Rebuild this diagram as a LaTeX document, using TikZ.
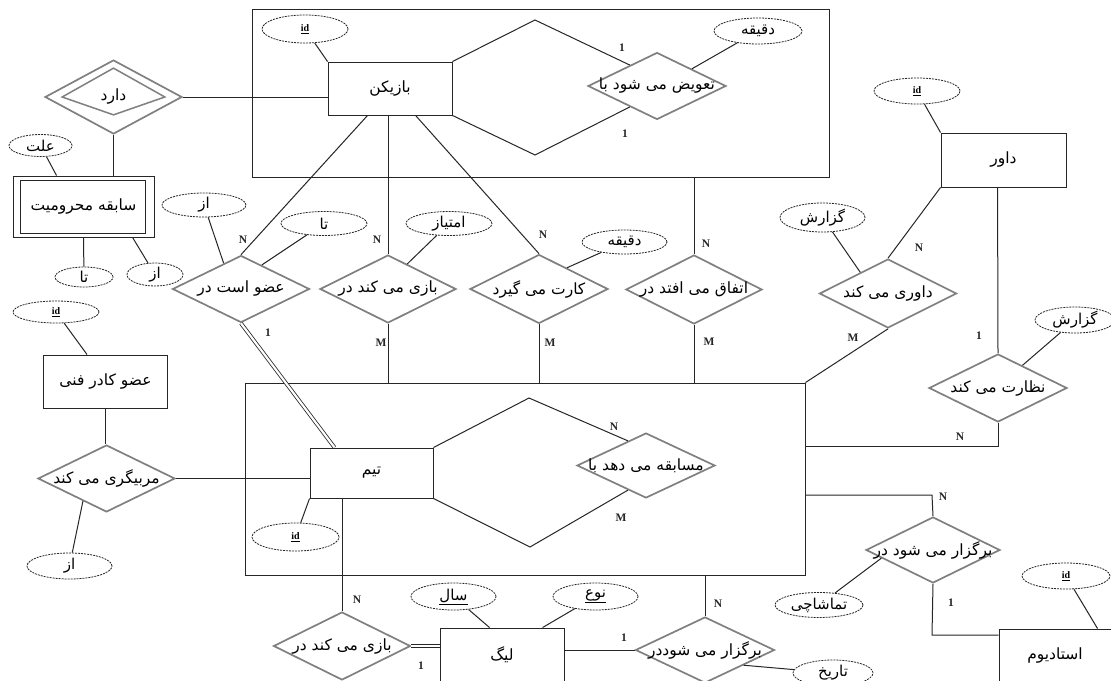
\documentclass[tikz,border=0pt]{standalone}
\usepackage{fontspec}
\setmainfont{Liberation Serif}
\newfontfamily\persfont[Script=Arabic]{DejaVu Sans}
\TeXXeTstate=1
\usetikzlibrary{shapes.geometric,calc}
\newcommand\fatx[1]{\makebox[0pt]{\persfont\beginR #1\endR}}
\newcommand\idtx{\makebox[0pt]{\bfseries\underline{id}}}
\begin{document}
\begin{tikzpicture}[x=1pt,y=-1pt,
 conn/.style={line width=1pt, draw=black!85},
 dbl/.style={draw=black!85, line width=0.8pt, double, double distance=2.2pt},
 ent/.style={draw=black!85, line width=0.9pt, rectangle, inner sep=0pt, font=\fontsize{15.5}{17}\selectfont},
 agg/.style={draw=black!85, line width=0.9pt, rectangle, inner sep=0pt},
 rel/.style={diamond, draw=black!50, line width=1.7pt, inner sep=0pt, fill=white, font=\fontsize{15.5}{17}\selectfont},
 attr/.style={ellipse, draw=black!85, line width=0.8pt, dash pattern=on 2pt off 1pt, inner sep=0pt, fill=white, font=\fontsize{15}{16}\selectfont},
 idattr/.style={attr, font=\fontsize{10}{11}\selectfont},
 card/.style={font=\fontsize{11.5}{12}\selectfont\bfseries, inner sep=0pt, text=black!85},
]
\fill[white] (0,0) rectangle (1111,680);
\useasboundingbox (0,0) rectangle (1111,680);
\clip (0,0) rectangle (1111,680);

% aggregate boxes
\node[agg, minimum width=577pt, minimum height=168pt] (agg1) at (540.5,93) {};
\node[agg, minimum width=560pt, minimum height=192pt] (agg2) at (525,479) {};

% entities
\node[ent, minimum width=124pt, minimum height=53pt] (player) at (390,88.5) {\fatx{بازیکن}};
\node[ent, minimum width=141pt, minimum height=61pt] (sabeghe) at (83.5,206.5) {\fatx{سابقه محرومیت}};
\node[ent, minimum width=124pt, minimum height=53pt] (kadr) at (105.5,381.5) {\fatx{عضو کادر فنی}};
\node[ent, minimum width=123pt, minimum height=50pt] (team) at (371.5,473) {\fatx{تیم}};
\node[ent, minimum width=125pt, minimum height=54pt] (davar) at (1003.5,160) {\fatx{داور}};
\node[ent, minimum width=124pt, minimum height=53pt] (league) at (502,654.5) {\fatx{لیگ}};
\node[ent, minimum width=124pt, minimum height=53pt] (stadium) at (1061,655.5) {\hspace*{-12pt}\fatx{استادیوم}};
\draw[black!85, line width=0.9pt] ($(sabeghe.north west)+(8,5)$) rectangle ($(sabeghe.south east)+(-9,-4)$);

% relationships
\node[rel, minimum width=138pt, minimum height=67pt] (tavizr) at (657,86) {\fatx{تعویض می شود با}};
\node[rel, minimum width=137pt, minimum height=74pt] (darad) at (113.5,97) {\fatx{دارد}};
\draw[black!50, line width=1.5pt] ($(darad.west)+(18,0)$) -- ($(darad.north)+(0,9)$) -- ($(darad.east)+(-18,0)$) -- ($(darad.south)+(0,-20)$) -- cycle;
\node[rel, minimum width=137pt, minimum height=67pt] (ozv) at (241,289) {\fatx{عضو است در}};
\node[rel, minimum width=136pt, minimum height=68pt] (bazia) at (388,289) {\fatx{بازی می کند در}};
\node[rel, minimum width=138pt, minimum height=69pt] (kart) at (539,289) {\fatx{کارت می گیرد}};
\node[rel, minimum width=136pt, minimum height=69pt] (etefagh) at (694,289.5) {\fatx{اتفاق می افتد در}};
\node[rel, minimum width=137pt, minimum height=69pt] (davari) at (888,293.5) {\fatx{داوری می کند}};
\node[rel, minimum width=138pt, minimum height=68pt] (nezarat) at (998,388) {\fatx{نظارت می کند}};
\node[rel, minimum width=137pt, minimum height=67pt] (morabi) at (106.5,478.5) {\fatx{مربیگری می کند}};
\node[rel, minimum width=138pt, minimum height=65pt] (mosabeghe) at (646,465.5) {\fatx{مسابقه می دهد با}};
\node[rel, minimum width=134pt, minimum height=66pt] (bargozara) at (933,550) {\fatx{برگزار می شود در}};
\node[rel, minimum width=137pt, minimum height=68pt] (bazib) at (342,646) {\fatx{بازی می کند در}};
\node[rel, minimum width=139pt, minimum height=66pt] (bargozarb) at (705,650) {\fatx{برگزار می شوددر}};

% attributes
\node[idattr, minimum width=86pt, minimum height=28pt] (idplayer) at (305,29) {\idtx};
\node[attr, minimum width=88pt, minimum height=26pt] (daghighea) at (758,31) {\fatx{دقیقه}};
\node[attr, minimum width=63pt, minimum height=22pt] (elat) at (40.5,145.5) {\fatx{علت}};
\node[attr, minimum width=84pt, minimum height=24pt] (aza) at (204,205) {\fatx{از}};
\node[attr, minimum width=86pt, minimum height=24pt] (taa) at (324,223.5) {\fatx{تا}};
\node[attr, minimum width=58pt, minimum height=20pt] (tab) at (84,277) {\fatx{تا}};
\node[attr, minimum width=56pt, minimum height=23pt] (azb) at (155,274.5) {\fatx{از}};
\node[idattr, minimum width=86pt, minimum height=22pt] (idkadr) at (56,312) {\idtx};
\node[attr, minimum width=86pt, minimum height=24pt] (emtiyaz) at (449,223.5) {\fatx{امتیاز}};
\node[attr, minimum width=85pt, minimum height=24pt] (daghigheb) at (624.5,242) {\fatx{دقیقه}};
\node[idattr, minimum width=86pt, minimum height=26pt] (iddavar) at (917,91) {\idtx};
\node[attr, minimum width=85pt, minimum height=29pt] (gozarésha) at (822.5,217.5) {\fatx{گزارش}};
\node[attr, minimum width=80pt, minimum height=26pt] (gozareshb) at (1075,320) {\fatx{گزارش}};
\node[idattr, minimum width=87pt, minimum height=28pt] (idteam) at (295.5,537) {\idtx};
\node[attr, minimum width=85pt, minimum height=26pt] (azc) at (69.5,566) {\fatx{از}};
\node[attr, minimum width=85pt, minimum height=27pt] (sal) at (453.5,596.5) {\makebox[0pt]{\underline{\persfont\beginR سال\endR}}};
\node[attr, minimum width=85pt, minimum height=27pt] (noe) at (595.5,596.5) {\makebox[0pt]{\underline{\persfont\beginR نوع\endR}}};
\node[attr, minimum width=88pt, minimum height=25pt] (tamasha) at (819,605) {\fatx{تماشاچی}};
\node[attr, minimum width=80pt, minimum height=26pt] (tarikh) at (833,673) {\fatx{تاریخ}};
\node[idattr, minimum width=88pt, minimum height=26pt] (idstad) at (1066,576) {\idtx};

% coordinates
\coordinate (pa) at (535,20);
\coordinate (pb) at (535,155);
\coordinate (ta) at (529,398);
\coordinate (tb) at (530,547);
\coordinate (ca) at (998,446);
\coordinate (cb) at (932,495);
\coordinate (cc) at (932,635);

% connectors
\draw[conn] (idplayer) -- (player.north west);
\draw[conn] (daghighea) -- (tavizr.north east);
\draw[conn] (player.north east) -- (pa) -- ($(tavizr.north)!0.39!(tavizr.west)$);
\draw[conn] (player.south east) -- (pb) -- ($(tavizr.south)!0.39!(tavizr.west)$);
\draw[conn] (darad.east) -- (darad.east -| player.west);
\draw[conn] (darad.south) -- (darad.south |- sabeghe.north);
\draw[conn] (elat) -- ($(sabeghe.north west)+(44,0)$);
\draw[conn] (sabeghe.south) -- (tab);
\draw[conn] ($(sabeghe.south west)+(120,0)$) -- (azb);
\draw[conn] ($(player.south west)+(40,0)$) -- (ozv.north);
\draw[conn] (aza) -- ($(ozv.north)!0.25!(ozv.west)$);
\draw[conn] (taa) -- ($(ozv.north)!0.3!(ozv.east)$);
\draw[dbl] (ozv.south) -- ($(team.north west)+(25,0)$);
\draw[conn] (idkadr) -- ($(kadr.north west)+(44,0)$);
\draw[conn] (kadr.south) -- (kadr.south |- morabi.north);
\draw[conn] (morabi.east) -- (morabi.east -| team.west);
\draw[conn] (azc) -- ($(morabi.south)!0.34!(morabi.west)$);
\draw[conn] (bazia.north |- player.south) -- (bazia.north);
\draw[conn] (bazia.south) -- (bazia.south |- agg2.north);
\draw[conn] (emtiyaz) -- ($(bazia.north)!0.28!(bazia.east)$);
\draw[conn] ($(player.south west)+(88,0)$) -- (kart.north);
\draw[conn] (kart.south) -- (kart.south |- agg2.north);
\draw[conn] (daghigheb) -- ($(kart.north)!0.4!(kart.east)$);
\draw[conn] (etefagh.north |- agg1.south) -- (etefagh.north);
\draw[conn] (etefagh.south) -- (etefagh.south |- agg2.north);
\draw[conn] (iddavar) -- (davar.north west);
\draw[conn] (davar.south west) -- (davari.north);
\draw[conn] (gozarésha) -- ($(davari.north)!0.4!(davari.west)$);
\draw[conn] (davari.south) -- (agg2.north east);
\draw[conn] ($(davar.south west)+(57,0)$) -- (nezarat.north);
\draw[conn] (gozareshb) -- ($(nezarat.north)!0.35!(nezarat.east)$);
\draw[conn] (nezarat.south) -- (ca) -- (ca -| agg2.east);
\draw[conn] (cb -| agg2.east) -- (cb) -- (bargozara.north);
\draw[conn] (tamasha) -- ($(bargozara.west)!0.24!(bargozara.south)$);
\draw[conn] (bargozara.south) -- (cc) -- (cc -| stadium.west);
\draw[conn] (idstad) -- ($(stadium.north west)+(99,0)$);
\draw[conn] (team.south west) -- (idteam);
\draw[conn] (bazib.north |- team.south) -- (bazib.north);
\draw[conn] (team.north east) -- (ta) -- ($(mosabeghe.north)!0.26!(mosabeghe.west)$);
\draw[conn] (team.south east) -- (tb) -- ($(mosabeghe.south)!0.26!(mosabeghe.west)$);
\draw[dbl] (bazib.east) -- (bazib.east -| league.west);
\draw[conn] (sal) -- ($(league.north west)+(50,0)$);
\draw[conn] (noe) -- ($(league.north west)+(103,0)$);
\draw[conn] (bargozarb.west -| league.east) -- (bargozarb.west);
\draw[conn] (bargozarb.north |- agg2.south) -- (bargozarb.north);
\draw[conn] ($(bargozarb.east)!0.45!(bargozarb.south)$) -- (tarikh);

% cardinalities
\node[card] (k1) at (622,48) {1};
\node[card] (k2) at (625,134) {1};
\node[card] (k3) at (243,240) {N};
\node[card] (k4) at (268,333) {1};
\node[card] (k5) at (377,240) {N};
\node[card] (k6) at (381,343) {M};
\node[card] (k7) at (543,235) {N};
\node[card] (k8) at (550,343) {M};
\node[card] (k9) at (706,244) {N};
\node[card] (k10) at (709,342) {M};
\node[card] (k11) at (919,248) {N};
\node[card] (k12) at (853,338) {M};
\node[card] (k13) at (979,336) {1};
\node[card] (k14) at (960,437) {N};
\node[card] (k15) at (943,497) {N};
\node[card] (k16) at (951,603) {1};
\node[card] (k17) at (614,427) {N};
\node[card] (k18) at (621,518) {M};
\node[card] (k19) at (357,600) {N};
\node[card] (k20) at (421,666) {1};
\node[card] (k21) at (624,638) {1};
\node[card] (k22) at (718,604) {N};
\end{tikzpicture}
\end{document}
